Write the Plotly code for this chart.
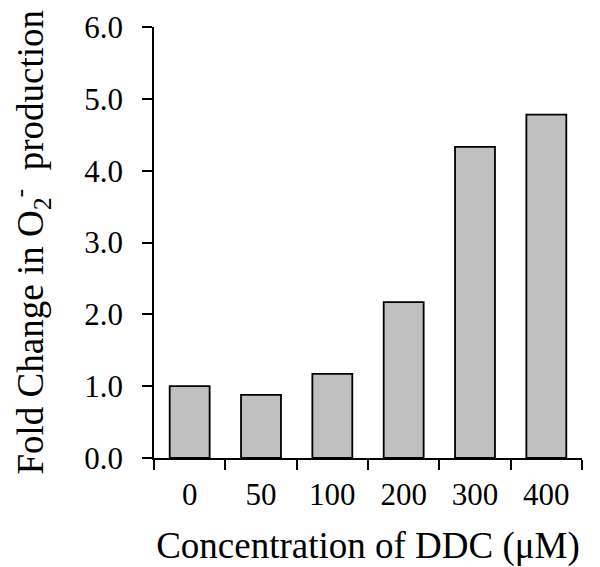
import plotly.graph_objects as go

categories = ["0", "50", "100", "200", "300", "400"]
fold_change = [1.00, 0.88, 1.17, 2.17, 4.33, 4.78]
y_ticks = [0, 1, 2, 3, 4, 5, 6]
y_tick_labels = ["0.0", "1.0", "2.0", "3.0", "4.0", "5.0", "6.0"]
x_title = "Concentration of DDC (μM)"
y_title = "Fold Change in O<sub>2</sub><sup>-</sup>  production"

FONT = "Liberation Serif, Times New Roman, serif"
TICK_SIZE = 31
TITLE_SIZE = 37

fig = go.Figure(
    go.Bar(
        x=categories,
        y=fold_change,
        marker=dict(color="#c0c0c0", line=dict(color="black", width=1.8)),
    )
)

# page body has an 8px default margin, so the figure is 8px smaller
fig.update_layout(
    width=592,
    height=559,
    margin=dict(l=146, r=18, t=19, b=109),
    plot_bgcolor="white",
    paper_bgcolor="white",
    bargap=0.44,
    showlegend=False,
    font=dict(family=FONT, color="black", size=TICK_SIZE),
)

fig.update_xaxes(
    type="category",
    range=[-0.5, 5.5],
    automargin=False,
    showline=True,
    linecolor="black",
    linewidth=1.5,
    ticks="outside",
    tickson="boundaries",
    ticklen=10,
    tickwidth=1.5,
    tickcolor="black",
    showgrid=False,
    tickfont=dict(family=FONT, size=TICK_SIZE),
    ticklabelstandoff=8,
    title=dict(text=x_title, font=dict(family=FONT, size=TITLE_SIZE), standoff=26),
)

fig.update_yaxes(
    range=[0, 6],
    automargin=False,
    tickvals=y_ticks,
    ticktext=y_tick_labels,
    showline=True,
    linecolor="black",
    linewidth=1.5,
    ticks="outside",
    ticklen=10,
    tickwidth=1.5,
    tickcolor="black",
    showgrid=False,
    zeroline=False,
    tickfont=dict(family=FONT, size=TICK_SIZE),
    ticklabelstandoff=13,
)

fig.add_annotation(
    text=y_title,
    xref="paper",
    yref="paper",
    x=0,
    y=0.5,
    xanchor="center",
    yanchor="middle",
    xshift=-124,
    textangle=-90,
    showarrow=False,
    font=dict(family=FONT, size=TITLE_SIZE, color="black"),
)

fig.write_html("out.html")
